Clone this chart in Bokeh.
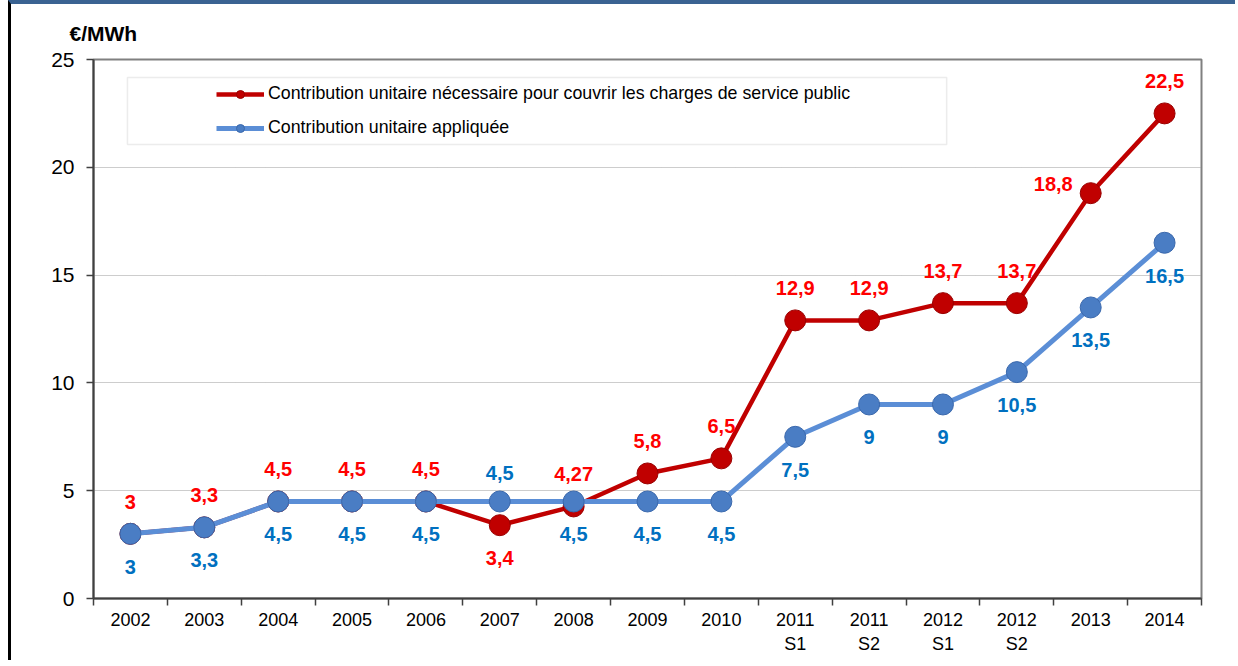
from bokeh.plotting import figure
from bokeh.models import (FixedTicker, Range1d, ColumnDataSource, Legend, LegendItem,
                          BoxAnnotation)
from bokeh.core.properties import value, field
from bokeh.embed import file_html
from bokeh.resources import INLINE

# ---- data ----
categories = ["2002", "2003", "2004", "2005", "2006", "2007", "2008", "2009", "2010",
              "2011\nS1", "2011\nS2", "2012\nS1", "2012\nS2", "2013", "2014"]
red_values = [3, 3.3, 4.5, 4.5, 4.5, 3.4, 4.27, 5.8, 6.5, 12.9, 12.9, 13.7, 13.7, 18.8, 22.5]
blue_values = [3, 3.3, 4.5, 4.5, 4.5, 4.5, 4.5, 4.5, 4.5, 7.5, 9, 9, 10.5, 13.5, 16.5]
red_label_side = ["above", "above", "above", "above", "above", "below", "above", "above",
                  "above", "above", "above", "above", "above", "left", "above"]
blue_label_side = ["below", "below", "below", "below", "below", "above_near", "below", "below",
                   "below", "below", "below", "below", "below", "below", "below"]
y_ticks = [0, 5, 10, 15, 20, 25]
red_name = "Contribution unitaire nécessaire pour couvrir les charges de service public"
blue_name = "Contribution unitaire appliquée"
unit_label = "€/MWh"

FONT = "Liberation Sans"
RED_LINE = "#C00000"
RED_TEXT = "#FF0000"
BLUE_LINE = "#5B8ED6"
BLUE_MARK = "#4A7DC4"
BLUE_TEXT = "#0070C0"
AXIS_COL = "#404040"

x_pos = [i + 0.5 for i in range(len(categories))]

def fmt(v):
    return f"{v:g}".replace(".", ",")

side_offsets = {"above": (0, -32, "center"), "below": (0, 33, "center"),
                "above_near": (0, -28, "center"), "below_near": (0, 27, "center"),
                "left": (-18, -9, "right")}

def label_source(vals, sides):
    dx = [side_offsets[s][0] for s in sides]
    dy = [side_offsets[s][1] for s in sides]
    al = [side_offsets[s][2] for s in sides]
    return ColumnDataSource(dict(x=x_pos, y=vals, text=[fmt(v) for v in vals],
                                 dx=dx, dy=dy, align=al))

p = figure(width=1227, height=660, output_backend="svg", toolbar_location=None,
           x_range=Range1d(0, len(categories)), y_range=Range1d(0, 25),
           min_border_left=82, min_border_right=37, min_border_top=55, min_border_bottom=66)
p.styles = {"margin-left": "8px", "border-top": "4px solid #3A6392",
            "border-left": "3px solid #000000"}
p.background_fill_color = "white"
p.border_fill_color = "white"
p.outline_line_color = "#808080"
p.outline_line_width = 2

# title (unit)
p.title.text = unit_label
p.title.text_font = FONT
p.title.text_font_size = "21px"
p.title.text_font_style = "bold"
p.title.text_color = "black"
p.title.align = "left"
p.title.offset = -24
p.title.standoff = 30

# grid
p.xgrid.visible = False
p.ygrid.ticker = FixedTicker(ticks=[t for t in y_ticks if 0 < t < 25])
p.ygrid.grid_line_color = "#9A9A9A"
p.ygrid.grid_line_dash = "1 1"
p.ygrid.grid_line_width = 1

# y axis
p.yaxis.ticker = FixedTicker(ticks=y_ticks)
p.yaxis.major_label_text_font = FONT
p.yaxis.major_label_text_font_size = "21px"
p.yaxis.major_label_text_color = "black"
p.yaxis.major_tick_out = 7
p.yaxis.major_tick_in = 0
p.yaxis.minor_tick_out = 0
p.yaxis.minor_tick_in = 0
p.yaxis.axis_line_color = AXIS_COL
p.yaxis.axis_line_width = 2
p.yaxis.major_tick_line_color = AXIS_COL
p.yaxis.major_tick_line_width = 1.5
p.yaxis.major_label_standoff = 12

# x axis
p.xaxis.ticker = FixedTicker(ticks=x_pos, minor_ticks=list(range(len(categories) + 1)))
p.xaxis.major_label_overrides = {x: c for x, c in zip(x_pos, categories)}
p.xaxis.major_tick_line_color = None
p.xaxis.major_tick_out = 0
p.xaxis.major_tick_in = 0
p.xaxis.minor_tick_out = 7
p.xaxis.minor_tick_in = 0
p.xaxis.minor_tick_line_color = AXIS_COL
p.xaxis.minor_tick_line_width = 1.5
p.xaxis.axis_line_color = AXIS_COL
p.xaxis.axis_line_width = 2
p.xaxis.major_label_text_font = FONT
p.xaxis.major_label_text_font_size = "18px"
p.xaxis.major_label_text_color = "black"
p.xaxis.major_label_standoff = 4

# series (small dots are used as legend glyphs; they sit beneath the big markers)
red_line = p.line(x_pos, red_values, line_color=RED_LINE, line_width=4.5)
red_dot = p.scatter(x_pos, red_values, size=9, fill_color=RED_LINE, line_color="#990000")
p.scatter(x_pos, red_values, size=21, fill_color=RED_LINE, line_color="#990000", line_width=1)
blue_line = p.line(x_pos, blue_values, line_color=BLUE_LINE, line_width=5)
blue_dot = p.scatter(x_pos, blue_values, size=9, fill_color=BLUE_MARK, line_color="#3A68AC")
p.scatter(x_pos, blue_values, size=21, fill_color=BLUE_MARK, line_color="#3A68AC", line_width=1)

# data labels
for vals, sides, col in ((red_values, red_label_side, RED_TEXT),
                         (blue_values, blue_label_side, BLUE_TEXT)):
    p.text(x="x", y="y", text="text", x_offset="dx", y_offset="dy", text_align=field("align"),
           text_baseline="middle", text_font=value(FONT), text_font_style="bold",
           text_font_size=value("20px"), text_color=col, source=label_source(vals, sides))

# legend frame
box = BoxAnnotation(left=0.46, right=11.55, bottom=21.06, top=24.16,
                    fill_color="white", fill_alpha=1, line_color="#BFBFBF", line_width=1.5)
p.add_layout(box)

legend = Legend(items=[LegendItem(label=red_name, renderers=[red_line, red_dot]),
                       LegendItem(label=blue_name, renderers=[blue_line, blue_dot])],
                location=(123, 460), padding=0, margin=0, spacing=13,
                glyph_width=48, glyph_height=20, label_height=20, label_standoff=4,
                border_line_alpha=0, background_fill_alpha=0,
                label_text_font=FONT, label_text_font_size="17.8px", label_text_color="black")
p.add_layout(legend)

open("out.html", "w").write(file_html(p, INLINE))
